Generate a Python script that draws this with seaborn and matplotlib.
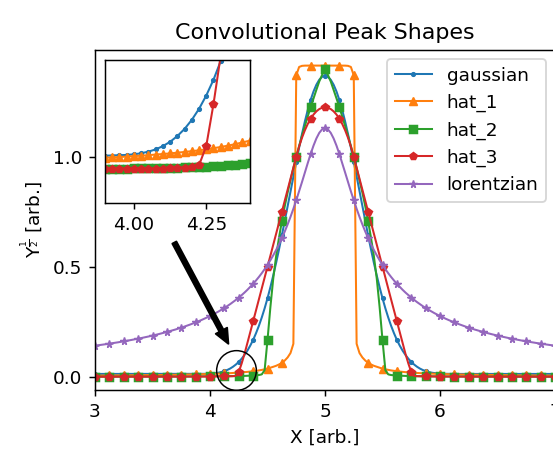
import numpy as np
import matplotlib
matplotlib.use("Agg")
import matplotlib.pyplot as plt
import seaborn as sns

# x grid shared by every peak shape (3.0 .. 7.0, step 0.025)
x = np.round(np.linspace(3.0, 7.0, 161), 3)

gaussian = [
    0.0130, 0.0130, 0.0130, 0.0130, 0.0130, 0.0130, 0.0130, 0.0130, 0.0130, 0.0130,
    0.0130, 0.0130, 0.0130, 0.0130, 0.0130, 0.0130, 0.0130, 0.0130, 0.0130, 0.0130,
    0.0130, 0.0130, 0.0130, 0.0130, 0.0130, 0.0130, 0.0130, 0.0130, 0.0130, 0.0130,
    0.0130, 0.0130, 0.0130, 0.0130, 0.0130, 0.0130, 0.0132, 0.0133, 0.0135, 0.0139,
    0.0145, 0.0154, 0.0169, 0.0189, 0.0219, 0.0258, 0.0310, 0.0375, 0.0457, 0.0557,
    0.0678, 0.0821, 0.0991, 0.1187, 0.1417, 0.1676, 0.1979, 0.2315, 0.2693, 0.3110,
    0.3569, 0.4068, 0.4605, 0.5180, 0.5788, 0.6423, 0.7080, 0.7753, 0.8432, 0.9110,
    0.9776, 1.0420, 1.1033, 1.1603, 1.2121, 1.2578, 1.2964, 1.3272, 1.3497, 1.3634,
    1.3680,
    1.3634, 1.3497, 1.3272, 1.2964, 1.2578, 1.2121, 1.1603, 1.1033, 1.0420, 0.9776,
    0.9110, 0.8432, 0.7753, 0.7080, 0.6423, 0.5788, 0.5180, 0.4605, 0.4068, 0.3569,
    0.3110, 0.2693, 0.2315, 0.1979, 0.1676, 0.1417, 0.1187, 0.0991, 0.0821, 0.0678,
    0.0557, 0.0457, 0.0375, 0.0310, 0.0258, 0.0219, 0.0189, 0.0169, 0.0154, 0.0145,
    0.0139, 0.0135, 0.0133, 0.0132, 0.0130, 0.0130, 0.0130, 0.0130, 0.0130, 0.0130,
    0.0130, 0.0130, 0.0130, 0.0130, 0.0130, 0.0130, 0.0130, 0.0130, 0.0130, 0.0130,
    0.0130, 0.0130, 0.0130, 0.0130, 0.0130, 0.0130, 0.0130, 0.0130, 0.0130, 0.0130,
    0.0130, 0.0130, 0.0130, 0.0130, 0.0130, 0.0130, 0.0130, 0.0130, 0.0130, 0.0130,
]

hat_1 = [
    0.0055, 0.0056, 0.0057, 0.0058, 0.0058, 0.0059, 0.0060, 0.0061, 0.0062, 0.0063,
    0.0064, 0.0065, 0.0066, 0.0068, 0.0069, 0.0070, 0.0071, 0.0073, 0.0074, 0.0076,
    0.0077, 0.0079, 0.0080, 0.0082, 0.0084, 0.0086, 0.0087, 0.0089, 0.0092, 0.0094,
    0.0096, 0.0099, 0.0101, 0.0104, 0.0107, 0.0110, 0.0113, 0.0116, 0.0120, 0.0124,
    0.0128, 0.0132, 0.0137, 0.0142, 0.0147, 0.0153, 0.0159, 0.0166, 0.0173, 0.0181,
    0.0190, 0.0200, 0.0211, 0.0223, 0.0237, 0.0252, 0.0269, 0.0290, 0.0313, 0.0340,
    0.0373, 0.0413, 0.0455, 0.0500, 0.0560, 0.0630, 0.0740, 0.0880, 0.1080, 0.1500,
    1.3700, 1.4080, 1.4130, 1.4140, 1.4142, 1.4142, 1.4142, 1.4142, 1.4142, 1.4142,
    1.4142,
    1.4142, 1.4142, 1.4142, 1.4142, 1.4142, 1.4142, 1.4140, 1.4130, 1.4080, 1.3700,
    0.1500, 0.1080, 0.0880, 0.0740, 0.0630, 0.0560, 0.0500, 0.0455, 0.0413, 0.0373,
    0.0340, 0.0313, 0.0290, 0.0269, 0.0252, 0.0237, 0.0223, 0.0211, 0.0200, 0.0190,
    0.0181, 0.0173, 0.0166, 0.0159, 0.0153, 0.0147, 0.0142, 0.0137, 0.0132, 0.0128,
    0.0124, 0.0120, 0.0116, 0.0113, 0.0110, 0.0107, 0.0104, 0.0101, 0.0099, 0.0096,
    0.0094, 0.0092, 0.0089, 0.0087, 0.0086, 0.0084, 0.0082, 0.0080, 0.0079, 0.0077,
    0.0076, 0.0074, 0.0073, 0.0071, 0.0070, 0.0069, 0.0068, 0.0066, 0.0065, 0.0064,
    0.0063, 0.0062, 0.0061, 0.0060, 0.0059, 0.0058, 0.0058, 0.0057, 0.0056, 0.0055,
]

hat_2 = [
    0.0005, 0.0005, 0.0005, 0.0005, 0.0005, 0.0005, 0.0005, 0.0005, 0.0005, 0.0005,
    0.0005, 0.0005, 0.0006, 0.0006, 0.0006, 0.0006, 0.0007, 0.0007, 0.0007, 0.0007,
    0.0008, 0.0008, 0.0008, 0.0008, 0.0009, 0.0009, 0.0009, 0.0010, 0.0010, 0.0010,
    0.0011, 0.0011, 0.0012, 0.0012, 0.0013, 0.0013, 0.0014, 0.0015, 0.0015, 0.0016,
    0.0017, 0.0018, 0.0019, 0.0020, 0.0021, 0.0023, 0.0024, 0.0026, 0.0028, 0.0030,
    0.0033, 0.0036, 0.0040, 0.0044, 0.0050, 0.0057, 0.0066, 0.0080, 0.0110, 0.0300,
    0.1670, 0.3160, 0.4470, 0.5480, 0.6320, 0.7070, 0.7750, 0.8370, 0.8940, 0.9490,
    1.0000, 1.0490, 1.0950, 1.1400, 1.1830, 1.2250, 1.2650, 1.3040, 1.3420, 1.3720,
    1.4000,
    1.3720, 1.3420, 1.3040, 1.2650, 1.2250, 1.1830, 1.1400, 1.0950, 1.0490, 1.0000,
    0.9490, 0.8940, 0.8370, 0.7750, 0.7070, 0.6320, 0.5480, 0.4470, 0.3160, 0.1670,
    0.0300, 0.0110, 0.0080, 0.0066, 0.0057, 0.0050, 0.0044, 0.0040, 0.0036, 0.0033,
    0.0030, 0.0028, 0.0026, 0.0024, 0.0023, 0.0021, 0.0020, 0.0019, 0.0018, 0.0017,
    0.0016, 0.0015, 0.0015, 0.0014, 0.0013, 0.0013, 0.0012, 0.0012, 0.0011, 0.0011,
    0.0010, 0.0010, 0.0010, 0.0009, 0.0009, 0.0009, 0.0008, 0.0008, 0.0008, 0.0008,
    0.0007, 0.0007, 0.0007, 0.0007, 0.0006, 0.0006, 0.0006, 0.0006, 0.0005, 0.0005,
    0.0005, 0.0005, 0.0005, 0.0005, 0.0005, 0.0005, 0.0005, 0.0005, 0.0005, 0.0005,
]

hat_3 = [
    0.0005, 0.0005, 0.0005, 0.0005, 0.0005, 0.0005, 0.0005, 0.0005, 0.0005, 0.0005,
    0.0005, 0.0005, 0.0005, 0.0005, 0.0005, 0.0005, 0.0005, 0.0005, 0.0005, 0.0005,
    0.0005, 0.0005, 0.0006, 0.0006, 0.0006, 0.0006, 0.0006, 0.0007, 0.0007, 0.0007,
    0.0007, 0.0008, 0.0008, 0.0008, 0.0009, 0.0009, 0.0010, 0.0010, 0.0011, 0.0011,
    0.0012, 0.0013, 0.0014, 0.0015, 0.0016, 0.0018, 0.0020, 0.0023, 0.0028, 0.0045,
    0.0220, 0.0600, 0.1040, 0.1530, 0.2030, 0.2520, 0.3020, 0.3510, 0.4010, 0.4510,
    0.5000, 0.5500, 0.6000, 0.6500, 0.7000, 0.7500, 0.8000, 0.8500, 0.9000, 0.9500,
    1.0000, 1.0464, 1.0863, 1.1203, 1.1489, 1.1726, 1.1916, 1.2062, 1.2166, 1.2227,
    1.2247,
    1.2227, 1.2166, 1.2062, 1.1916, 1.1726, 1.1489, 1.1203, 1.0863, 1.0464, 1.0000,
    0.9500, 0.9000, 0.8500, 0.8000, 0.7500, 0.7000, 0.6500, 0.6000, 0.5500, 0.5000,
    0.4510, 0.4010, 0.3510, 0.3020, 0.2520, 0.2030, 0.1530, 0.1040, 0.0600, 0.0220,
    0.0045, 0.0028, 0.0023, 0.0020, 0.0018, 0.0016, 0.0015, 0.0014, 0.0013, 0.0012,
    0.0011, 0.0011, 0.0010, 0.0010, 0.0009, 0.0009, 0.0008, 0.0008, 0.0008, 0.0007,
    0.0007, 0.0007, 0.0007, 0.0006, 0.0006, 0.0006, 0.0006, 0.0006, 0.0005, 0.0005,
    0.0005, 0.0005, 0.0005, 0.0005, 0.0005, 0.0005, 0.0005, 0.0005, 0.0005, 0.0005,
    0.0005, 0.0005, 0.0005, 0.0005, 0.0005, 0.0005, 0.0005, 0.0005, 0.0005, 0.0005,
]

lorentzian = [
    0.1413, 0.1430, 0.1448, 0.1467, 0.1486, 0.1505, 0.1525, 0.1546, 0.1567, 0.1588,
    0.1611, 0.1633, 0.1657, 0.1681, 0.1706, 0.1732, 0.1758, 0.1785, 0.1813, 0.1842,
    0.1872, 0.1903, 0.1935, 0.1968, 0.2002, 0.2037, 0.2074, 0.2111, 0.2150, 0.2191,
    0.2233, 0.2277, 0.2322, 0.2370, 0.2419, 0.2470, 0.2523, 0.2579, 0.2637, 0.2698,
    0.2761, 0.2828, 0.2897, 0.2970, 0.3047, 0.3127, 0.3212, 0.3301, 0.3395, 0.3494,
    0.3599, 0.3710, 0.3827, 0.3952, 0.4085, 0.4225, 0.4376, 0.4536, 0.4707, 0.4890,
    0.5086, 0.5296, 0.5521, 0.5763, 0.6023, 0.6303, 0.6602, 0.6924, 0.7268, 0.7634,
    0.8022, 0.8429, 0.8851, 0.9281, 0.9710, 1.0123, 1.0503, 1.0830, 1.1084, 1.1245,
    1.1300,
    1.1245, 1.1084, 1.0830, 1.0503, 1.0123, 0.9710, 0.9281, 0.8851, 0.8429, 0.8022,
    0.7634, 0.7268, 0.6924, 0.6602, 0.6303, 0.6023, 0.5763, 0.5521, 0.5296, 0.5086,
    0.4890, 0.4707, 0.4536, 0.4376, 0.4225, 0.4085, 0.3952, 0.3827, 0.3710, 0.3599,
    0.3494, 0.3395, 0.3301, 0.3212, 0.3127, 0.3047, 0.2970, 0.2897, 0.2828, 0.2761,
    0.2698, 0.2637, 0.2579, 0.2523, 0.2470, 0.2419, 0.2370, 0.2322, 0.2277, 0.2233,
    0.2191, 0.2150, 0.2111, 0.2074, 0.2037, 0.2002, 0.1968, 0.1935, 0.1903, 0.1872,
    0.1842, 0.1813, 0.1785, 0.1758, 0.1732, 0.1706, 0.1681, 0.1657, 0.1633, 0.1611,
    0.1588, 0.1567, 0.1546, 0.1525, 0.1505, 0.1486, 0.1467, 0.1448, 0.1430, 0.1413,
]

names = ["gaussian", "hat_1", "hat_2", "hat_3", "lorentzian"]
shapes = [gaussian, hat_1, hat_2, hat_3, lorentzian]
markers = [".", "^", "s", "p", "*"]
colors = sns.color_palette("tab10", 5)

# zoomed-in window and the annotation pointing to it
zoom_xlim = (3.9, 4.4)
zoom_ylim = (-0.03, 0.1)
circle_xy = (4.223, 0.03)
arrow_from = (3.69, 0.61)
arrow_to = (4.16, 0.15)

fig = plt.figure(figsize=(553 / 133, 454 / 133), dpi=133)
ax = fig.add_axes([95 / 553, 64 / 454, 460 / 553, 340 / 454])
axins = ax.inset_axes([0.0217, 0.549, 0.3145, 0.4215])

for name, vals, m, c in zip(names, shapes, markers, colors):
    sns.lineplot(x=x, y=vals, ax=ax, color=c, marker=m, markevery=5, ms=4,
                 mec=c, mew=0.8, lw=1.1, label=name, errorbar=None)
    sns.lineplot(x=x, y=vals, ax=axins, color=c, marker=m, ms=4,
                 mec=c, mew=0.8, lw=1.1, errorbar=None, legend=False)

ax.set_xlim(3, 7)
ax.set_ylim(-0.06, 1.485)
ax.set_xticks([3, 4, 5, 6, 7])
ax.set_yticks([0.0, 0.5, 1.0])
ax.set_xlabel("X [arb.]")
ax.set_ylabel(r"Y$^{\frac{1}{2}}$ [arb.]")
ax.set_title("Convolutional Peak Shapes")
ax.legend(loc="upper right")

axins.set_xlim(*zoom_xlim)
axins.set_ylim(*zoom_ylim)
axins.set_xticks([4.0, 4.25])
axins.set_xticklabels(["4.00", "4.25"])
axins.set_yticks([])
axins.set_xlabel("")
axins.set_ylabel("")

ax.plot(*circle_xy, "o", ms=21.5, mfc="none", mec="k", mew=0.8)
ax.annotate("", xy=arrow_to, xytext=arrow_from,
            arrowprops=dict(facecolor="k", edgecolor="k", width=2.5,
                            headwidth=7, headlength=8))

fig.savefig("out.png", dpi=133)
